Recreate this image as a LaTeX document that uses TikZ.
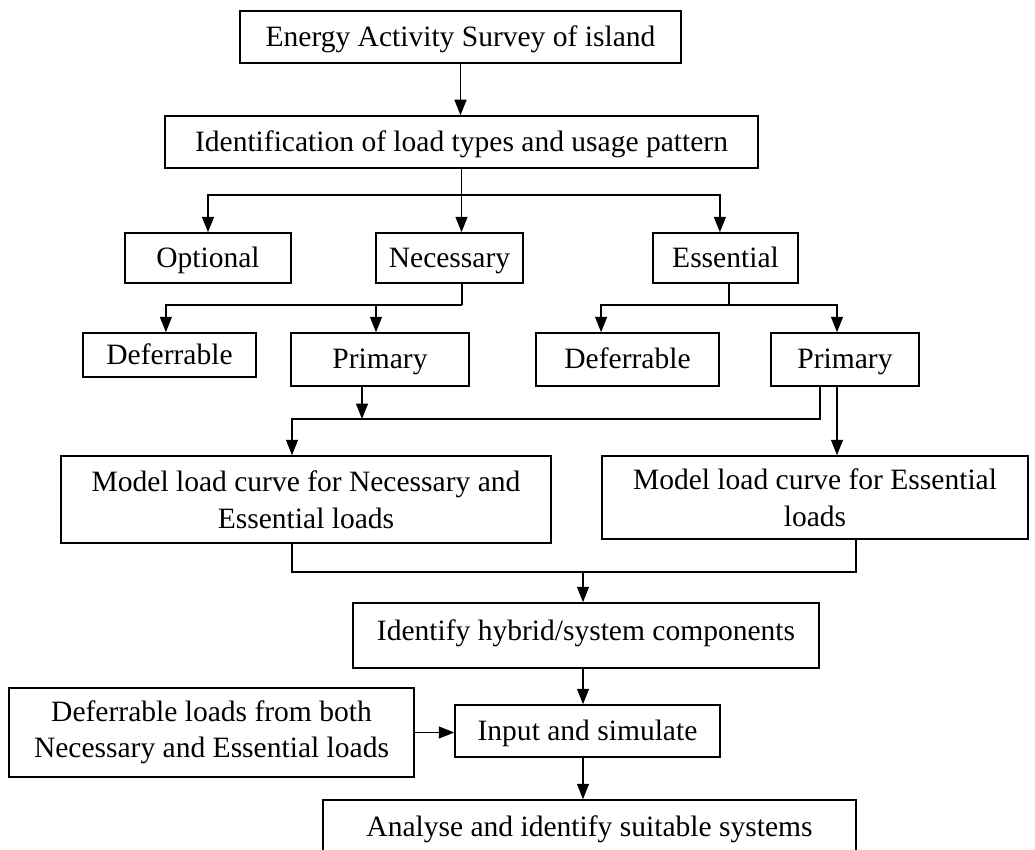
\documentclass[tikz,border=0pt]{standalone}
\usepackage{fontspec}
\setmainfont{Liberation Serif}
\usepackage{tikz}
\usetikzlibrary{arrows.meta, positioning}

\begin{document}
\begin{tikzpicture}[font=\fontsize{21}{26}\selectfont,
  box/.style={draw, line width=1.1pt, align=center, inner sep=0pt},
  one/.style={box, text height=18pt, text depth=4.5pt},
  arr/.style={-{Triangle[length=11pt, width=8.5pt]}, line width=1.1pt},
  link/.style={line width=1.1pt}]
  \useasboundingbox (0,0) rectangle (25.875,21.225);
  % Survey and identification
  \node[one, minimum width=11.025cm, minimum height=1.3cm] (survey) at (11.5125, 20.3)
    {Energy Activity Survey of island};
  \node[one, minimum width=14.825cm, minimum height=1.3cm] (ident) at (11.5375, 17.675)
    {Identification of load types and usage pattern};
  % Load types
  \node[one, minimum width=4.15cm, minimum height=1.25cm] (optional) at (5.2, 14.775) {Optional};
  \node[one, minimum width=3.675cm, minimum height=1.25cm] (necessary) at (11.2375, 14.775) {Necessary};
  \node[one, minimum width=3.625cm, minimum height=1.25cm] (essential) at (18.1375, 14.775) {Essential};
  % Sub types
  \node[one, minimum width=4.325cm, minimum height=1.1cm] (deferL) at (4.2375, 12.35) {Deferrable};
  \node[one, minimum width=4.45cm, minimum height=1.325cm] (primL) at (9.5, 12.2375) {Primary};
  \node[one, minimum width=4.575cm, minimum height=1.325cm] (deferR) at (15.6875, 12.2375) {Deferrable};
  \node[one, minimum width=3.7cm, minimum height=1.325cm] (primR) at (21.125, 12.2375) {Primary};
  % Load curves
  \node[box, minimum width=12.25cm, minimum height=2.175cm] (modelL) at (7.65, 8.7375)
    {Model load curve for Necessary and\\Essential loads};
  \node[box, minimum width=10.65cm, minimum height=2.075cm] (modelR) at (20.375, 8.7875)
    {Model load curve for Essential\\loads};
  % System steps
  \node[one, text depth=11.5pt, minimum width=11.65cm, minimum height=1.625cm] (hybrid) at (14.65, 5.3375)
    {Identify hybrid/system components};
  \node[one, minimum width=6.625cm, minimum height=1.3cm] (input) at (14.6875, 2.95)
    {Input and simulate};
  \node[box, minimum width=10.125cm, minimum height=2.225cm] (deferload) at (5.2875, 2.9125)
    {Deferrable loads from both\\Necessary and Essential loads};
  \node[one, minimum width=13.325cm, minimum height=1.35cm] (analyse) at (14.7375, 0.55)
    {Analyse and identify suitable systems};
  % Branch points
  \coordinate (split) at (11.525, 16.35);
  \coordinate (nsplit) at (11.55, 13.6);
  \coordinate (esplit) at (18.225, 13.6);
  \coordinate (pjoin) at (9.05, 10.75);
  \coordinate (rjoin) at (20.5, 10.75);
  \coordinate (lbend) at (7.3, 10.75);
  \coordinate (mL) at (7.3, 6.925);
  \coordinate (mR) at (21.4, 6.925);
  \coordinate (merge) at (14.575, 6.925);
  % Connectors
  \draw[arr] (survey.south) -- (survey.south |- ident.north);
  \draw[arr] (ident.south) -- (ident.south |- necessary.north);
  \draw[arr] (ident.south |- split) -| (optional.north);
  \draw[arr] (ident.south |- split) -| ([xshift=-0.14cm]essential.north);
  \draw[link] (necessary.south -| nsplit) -- (nsplit);
  \draw[arr] (nsplit) -| ([xshift=-0.09cm]deferL.north);
  \draw[arr] (nsplit) -| ([xshift=-0.1cm]primL.north);
  \draw[link] (essential.south -| esplit) -- (esplit);
  \draw[arr] (esplit) -| ([xshift=-0.66cm]deferR.north);
  \draw[arr] (esplit) -| ([xshift=-0.2cm]primR.north);
  \draw[arr] (primL.south -| pjoin) -- (pjoin);
  \draw[arr] (primR.south -| rjoin) -- (rjoin) -- (lbend) -- (lbend |- modelL.north);
  \draw[arr] ([xshift=-0.2cm]primR.south) -- ([xshift=-0.2cm]primR.south |- modelR.north);
  \draw[link] (modelL.south -| mL) -- (mL) -- (mR) -- (modelR.south -| mR);
  \draw[arr] (merge) -- (merge |- hybrid.north);
  \draw[arr] (hybrid.south -| merge) -- (input.north -| merge);
  \draw[arr] (input.south -| merge) -- (analyse.north -| merge);
  \draw[arr] (deferload.east) -- (deferload.east -| input.west);
\end{tikzpicture}
\end{document}
